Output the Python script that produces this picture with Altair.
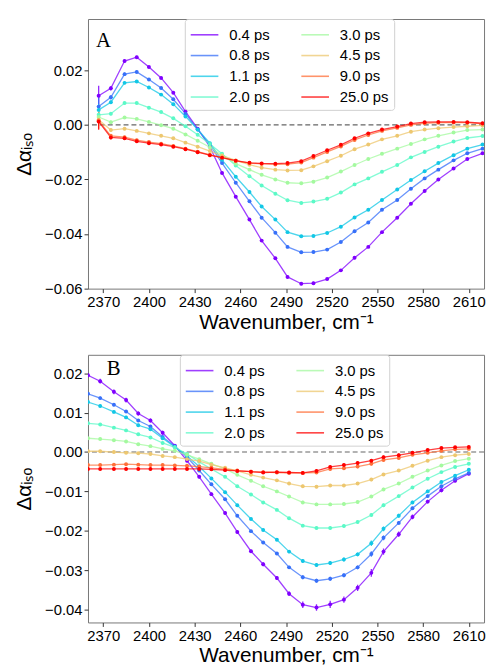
import altair as alt
import pandas as pd

delays = ["0.4 ps", "0.8 ps", "1.1 ps", "2.0 ps", "3.0 ps", "4.5 ps", "9.0 ps", "25.0 ps"]
colors = ["#8000ff", "#3770f9", "#12c7e6", "#5bf9c7", "#a4f99f", "#edc76f", "#ff6f39", "#ff0000"]

x_ticks = [2370, 2400, 2430, 2460, 2490, 2520, 2550, 2580, 2610]
yA_ticks = [-0.06, -0.04, -0.02, 0.0, 0.02]
yB_ticks = [-0.04, -0.03, -0.02, -0.01, 0.0, 0.01, 0.02]

# ---------------- Panel A ----------------
wnA = [2367, 2375, 2384, 2392, 2400, 2408, 2416, 2424, 2432, 2440, 2448, 2457, 2466, 2474, 2483,
       2491, 2500, 2508, 2517, 2526, 2535, 2544, 2553, 2563, 2572, 2581, 2590, 2600, 2609, 2619]
A_04 = [0.0107, 0.0134, 0.0234, 0.0248, 0.0212, 0.0172, 0.0118, 0.0049, -0.0014, -0.0080, -0.0176, -0.0263, -0.0347, -0.0424, -0.0489,
        -0.0557, -0.0582, -0.0580, -0.0565, -0.0533, -0.0487, -0.0447, -0.0393, -0.0340, -0.0289, -0.0242, -0.0200, -0.0160, -0.0125, -0.0104]
A_08 = [0.0067, 0.0101, 0.0186, 0.0194, 0.0166, 0.0135, 0.0094, 0.0041, -0.0017, -0.0073, -0.0140, -0.0212, -0.0280, -0.0340, -0.0395,
        -0.0447, -0.0467, -0.0466, -0.0457, -0.0429, -0.0390, -0.0358, -0.0311, -0.0275, -0.0234, -0.0196, -0.0164, -0.0130, -0.0104, -0.0087]
A_11 = [0.0055, 0.0083, 0.0154, 0.0159, 0.0137, 0.0111, 0.0076, 0.0031, -0.0017, -0.0067, -0.0128, -0.0190, -0.0246, -0.0299, -0.0347,
        -0.0393, -0.0408, -0.0407, -0.0396, -0.0373, -0.0339, -0.0311, -0.0275, -0.0237, -0.0202, -0.0170, -0.0140, -0.0111, -0.0087, -0.0072]
A_20 = [0.0037, 0.0041, 0.0080, 0.0080, 0.0063, 0.0047, 0.0024, -0.0005, -0.0036, -0.0070, -0.0106, -0.0149, -0.0188, -0.0222, -0.0252,
        -0.0276, -0.0286, -0.0281, -0.0271, -0.0248, -0.0218, -0.0196, -0.0172, -0.0147, -0.0119, -0.0099, -0.0080, -0.0061, -0.0048, -0.0041]
A_30 = [0.0029, 0.0010, 0.0027, 0.0022, 0.0011, -0.0001, -0.0014, -0.0035, -0.0058, -0.0082, -0.0111, -0.0142, -0.0164, -0.0183, -0.0200,
        -0.0212, -0.0214, -0.0208, -0.0193, -0.0171, -0.0147, -0.0125, -0.0106, -0.0087, -0.0070, -0.0053, -0.0040, -0.0028, -0.0019, -0.0017]
A_45 = [0.0019, -0.0019, -0.0014, -0.0022, -0.0031, -0.0040, -0.0049, -0.0065, -0.0080, -0.0096, -0.0113, -0.0130, -0.0146, -0.0157, -0.0164,
        -0.0167, -0.0166, -0.0152, -0.0133, -0.0113, -0.0089, -0.0072, -0.0053, -0.0040, -0.0025, -0.0017, -0.0012, -0.0008, -0.0005, -0.0002]
A_90 = [0.0016, -0.0040, -0.0045, -0.0056, -0.0063, -0.0069, -0.0077, -0.0087, -0.0098, -0.0110, -0.0120, -0.0132, -0.0140, -0.0143, -0.0145,
        -0.0144, -0.0138, -0.0120, -0.0099, -0.0079, -0.0055, -0.0037, -0.0022, -0.0011, 0.0000, 0.0006, 0.0008, 0.0009, 0.0008, 0.0004]
A_250 = [0.0012, -0.0046, -0.0049, -0.0060, -0.0067, -0.0072, -0.0080, -0.0089, -0.0100, -0.0111, -0.0120, -0.0131, -0.0139, -0.0141, -0.0142,
         -0.0140, -0.0133, -0.0114, -0.0093, -0.0073, -0.0049, -0.0031, -0.0017, -0.0006, 0.0005, 0.0010, 0.0011, 0.0011, 0.0010, 0.0006]

errA_big = [0.0036, 0.0008, 0.0006, 0.0005, 0.0004, 0.0004, 0.0004, 0.0004, 0.0004, 0.0004, 0.0004, 0.0004, 0.0004, 0.0004, 0.0004,
            0.0005, 0.0006, 0.0005, 0.0004, 0.0004, 0.0005, 0.0004, 0.0004, 0.0004, 0.0004, 0.0004, 0.0004, 0.0004, 0.0004, 0.0004]
errA_mid = [0.0022, 0.0006, 0.0005, 0.0004, 0.0003, 0.0003, 0.0003, 0.0003, 0.0003, 0.0003, 0.0003, 0.0003, 0.0003, 0.0003, 0.0003,
            0.0004, 0.0004, 0.0004, 0.0003, 0.0003, 0.0003, 0.0003, 0.0003, 0.0003, 0.0003, 0.0003, 0.0003, 0.0003, 0.0003, 0.0003]
errA_red = [0.0030, 0.0007, 0.0005, 0.0005, 0.0004, 0.0004, 0.0004, 0.0004, 0.0003, 0.0003, 0.0003, 0.0003, 0.0003, 0.0003, 0.0003,
            0.0003, 0.0003, 0.0003, 0.0003, 0.0003, 0.0003, 0.0003, 0.0003, 0.0003, 0.0003, 0.0003, 0.0003, 0.0003, 0.0003, 0.0003]

# ---------------- Panel B ----------------
wnB = [2360, 2368, 2377, 2385, 2393, 2401, 2409, 2417, 2425, 2433, 2441, 2450, 2458, 2467, 2475,
       2484, 2492, 2501, 2510, 2519, 2528, 2537, 2546, 2554, 2564, 2573, 2583, 2592, 2601, 2610]
B_04 = [0.0195, 0.0180, 0.0153, 0.0132, 0.0098, 0.0080, 0.0049, 0.0016, -0.0022, -0.0063, -0.0107, -0.0155, -0.0203, -0.0252, -0.0285,
        -0.0320, -0.0360, -0.0388, -0.0395, -0.0387, -0.0375, -0.0345, -0.0307, -0.0253, -0.0209, -0.0165, -0.0126, -0.0097, -0.0073, -0.0055]
B_08 = [0.0148, 0.0137, 0.0120, 0.0103, 0.0080, 0.0065, 0.0038, 0.0015, -0.0013, -0.0047, -0.0082, -0.0120, -0.0162, -0.0201, -0.0230,
        -0.0258, -0.0293, -0.0318, -0.0327, -0.0322, -0.0313, -0.0293, -0.0259, -0.0218, -0.0180, -0.0143, -0.0112, -0.0087, -0.0068, -0.0053]
B_11 = [0.0127, 0.0117, 0.0102, 0.0088, 0.0068, 0.0058, 0.0035, 0.0013, -0.0010, -0.0037, -0.0067, -0.0102, -0.0135, -0.0170, -0.0198,
        -0.0223, -0.0253, -0.0277, -0.0287, -0.0282, -0.0273, -0.0260, -0.0232, -0.0195, -0.0162, -0.0128, -0.0100, -0.0076, -0.0060, -0.0045]
B_20 = [0.0073, 0.0070, 0.0062, 0.0055, 0.0045, 0.0037, 0.0023, 0.0012, -0.0005, -0.0025, -0.0043, -0.0063, -0.0087, -0.0108, -0.0128,
        -0.0147, -0.0168, -0.0187, -0.0193, -0.0193, -0.0188, -0.0178, -0.0160, -0.0135, -0.0112, -0.0090, -0.0068, -0.0051, -0.0038, -0.0030]
B_30 = [0.0035, 0.0033, 0.0030, 0.0027, 0.0020, 0.0015, 0.0008, 0.0003, -0.0007, -0.0018, -0.0030, -0.0043, -0.0058, -0.0073, -0.0087,
        -0.0100, -0.0113, -0.0128, -0.0133, -0.0133, -0.0132, -0.0127, -0.0113, -0.0095, -0.0080, -0.0063, -0.0047, -0.0034, -0.0023, -0.0017]
B_45 = [0.0002, 0.0002, 0.0000, -0.0002, -0.0003, -0.0005, -0.0010, -0.0013, -0.0018, -0.0023, -0.0032, -0.0040, -0.0048, -0.0058, -0.0065,
        -0.0072, -0.0080, -0.0087, -0.0088, -0.0085, -0.0085, -0.0080, -0.0070, -0.0057, -0.0047, -0.0035, -0.0022, -0.0013, -0.0008, -0.0005]
B_90 = [-0.0033, -0.0033, -0.0032, -0.0031, -0.0032, -0.0033, -0.0033, -0.0034, -0.0035, -0.0037, -0.0040, -0.0044, -0.0047, -0.0050, -0.0051,
        -0.0052, -0.0053, -0.0053, -0.0052, -0.0043, -0.0041, -0.0037, -0.0030, -0.0020, -0.0015, -0.0007, -0.0002, 0.0003, 0.0007, 0.0008]
B_250 = [-0.0043, -0.0043, -0.0043, -0.0043, -0.0043, -0.0043, -0.0043, -0.0043, -0.0043, -0.0043, -0.0044, -0.0046, -0.0048, -0.0050, -0.0052,
         -0.0051, -0.0052, -0.0053, -0.0048, -0.0038, -0.0033, -0.0028, -0.0022, -0.0013, -0.0008, -0.0002, 0.0005, 0.0010, 0.0012, 0.0013]

errB_big = [0.0005, 0.0006, 0.0006, 0.0006, 0.0005, 0.0005, 0.0005, 0.0004, 0.0004, 0.0004, 0.0004, 0.0004, 0.0004, 0.0004, 0.0005,
            0.0005, 0.0006, 0.0008, 0.0008, 0.0009, 0.0008, 0.0008, 0.0010, 0.0008, 0.0007, 0.0006, 0.0005, 0.0005, 0.0004, 0.0004]
errB_mid = [0.0003, 0.0004, 0.0004, 0.0004, 0.0004, 0.0003, 0.0003, 0.0003, 0.0003, 0.0003, 0.0003, 0.0003, 0.0003, 0.0003, 0.0003,
            0.0003, 0.0004, 0.0005, 0.0005, 0.0005, 0.0005, 0.0005, 0.0007, 0.0006, 0.0005, 0.0004, 0.0004, 0.0003, 0.0003, 0.0003]
errB_small = [0.0003, 0.0003, 0.0003, 0.0003, 0.0003, 0.0003, 0.0003, 0.0003, 0.0003, 0.0003, 0.0003, 0.0003, 0.0003, 0.0003, 0.0003,
              0.0003, 0.0003, 0.0004, 0.0004, 0.0004, 0.0004, 0.0004, 0.0004, 0.0004, 0.0004, 0.0003, 0.0003, 0.0003, 0.0003, 0.0003]

seriesA = [A_04, A_08, A_11, A_20, A_30, A_45, A_90, A_250]
errsA = [errA_big, errA_big, errA_mid, errA_mid, errA_mid, errA_mid, errA_red, errA_red]
seriesB = [B_04, B_08, B_11, B_20, B_30, B_45, B_90, B_250]
errsB = [errB_big, errB_mid, errB_mid, errB_small, errB_small, errB_small, errB_small, errB_small]


def make_df(wn, series, errs):
    rows = []
    for k, (d, vals, es) in enumerate(zip(delays, series, errs)):
        for w, v, e in zip(wn, vals, es):
            rows.append({"wn": w, "val": v, "lo": v - e, "hi": v + e, "delay": d, "k": k})
    return pd.DataFrame(rows)


dfA = make_df(wnA, seriesA, errsA)
dfB = make_df(wnB, seriesB, errsB)

FONT = "Liberation Sans"


def panel(df, ydom, yticks, label, lab_x, lab_y, leg_x, h):
    xs = alt.Scale(domain=[2360, 2620], nice=False, zero=False)
    ys = alt.Scale(domain=ydom, nice=False, zero=False)
    xax = alt.Axis(values=x_ticks, format="d", title="Wavenumber, cm⁻¹")
    yax = alt.Axis(values=yticks, format=".2f", title="Δαᵢₛₒ")
    col = alt.Color("delay:N", scale=alt.Scale(domain=delays, range=colors),
                    legend=alt.Legend(orient="none", legendX=leg_x, legendY=0, columns=2, title=None,
                                      symbolType="M-1,0H1.8", symbolSize=400, symbolStrokeWidth=1.6,
                                      labelFont=FONT, labelFontSize=15, labelOffset=18,
                                      columnPadding=28, rowPadding=2, padding=5,
                                      fillColor="rgba(255,255,255,0.85)", strokeColor="#d0d0d0",
                                      cornerRadius=3, symbolOpacity=0.75))
    base = alt.Chart(df)
    zero = alt.Chart(pd.DataFrame({"z": [0.0]})).mark_rule(
        color="#666666", strokeDash=[5, 3], strokeWidth=1.2).encode(y=alt.Y("z:Q", scale=ys, axis=yax))
    lines = base.mark_line(strokeWidth=1.3, opacity=0.75, clip=True).encode(
        x=alt.X("wn:Q", scale=xs, axis=xax), y=alt.Y("val:Q", scale=ys, axis=yax), color=col,
        order="wn:Q")
    errb = base.mark_rule(strokeWidth=1.3, opacity=0.85, clip=True).encode(
        x=alt.X("wn:Q", scale=xs), y=alt.Y("lo:Q", scale=ys), y2="hi:Q", color=col)
    pts = base.mark_circle(size=16, opacity=1, clip=True).encode(
        x=alt.X("wn:Q", scale=xs), y=alt.Y("val:Q", scale=ys), color=col)
    txt = alt.Chart(pd.DataFrame({"t": [label]})).mark_text(
        align="left", baseline="alphabetic", font="Liberation Serif", fontSize=21, color="black").encode(
        x=alt.value(lab_x), y=alt.value(lab_y), text="t:N")
    return alt.layer(zero, lines, errb, pts, txt).properties(width=401, height=h)


pA = panel(dfA, [-0.06, 0.0388], yA_ticks, "A", 8, 28, 98, 273)
pB = panel(dfB, [-0.0433, 0.0247], yB_ticks, "B", 19, 20, 93, 271)

chart = alt.vconcat(pA, pB, spacing=21).resolve_scale(color="independent").resolve_legend(
    color="independent").properties(
    padding={"left": 5, "top": 6, "right": 2, "bottom": 0}
).configure_view(stroke="#777777", strokeWidth=1).configure_axis(
    domain=False, grid=False, labelFont=FONT, labelFontSize=15, labelColor="black",
    titleFont=FONT, titleFontSize=21, titleFontWeight="normal", titleColor="black",
    tickColor="#333333", tickSize=4, labelPadding=2, titlePadding=2
).configure_axisY(titlePadding=10)

chart.save("out.html", embed_options={"renderer": "svg", "actions": False})
